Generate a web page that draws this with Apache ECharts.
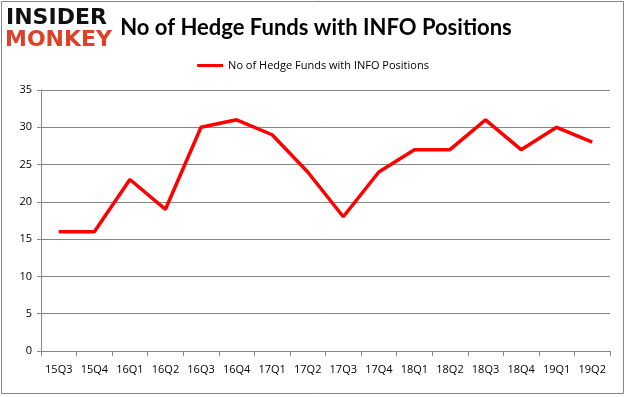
<!DOCTYPE html>
<html><head><meta charset="utf-8">
<script src="https://cdn.jsdelivr.net/npm/echarts@6/dist/echarts.min.js"></script>
<style>html,body{margin:0;padding:0;background:#fff}#c{width:626px;height:397px}</style>
</head><body><div id="c"></div>
<script>
const categories = ['15Q3','15Q4','16Q1','16Q2','16Q3','16Q4','17Q1','17Q2','17Q3','17Q4','18Q1','18Q2','18Q3','18Q4','19Q1','19Q2'];
const values = [16,16,23,19,30,31,29,24,18,24,27,27,31,27,30,28];
const seriesName = 'No of Hedge Funds with INFO Positions';
const titleText = 'No of Hedge Funds with INFO Positions';
const yTicks = [0,5,10,15,20,25,30,35];

const chart = echarts.init(document.getElementById('c'), null, {renderer:'canvas'});
chart.setOption({
  animation:false,
  backgroundColor:'#fff',
  graphic:[
    {type:'rect', shape:{x:1.5,y:1.5,width:622,height:392}, style:{fill:'none',stroke:'#868686',lineWidth:1}},
    {type:'text', left:6, top:7, style:{text:'INSIDER', font:'900 22px "DejaVu Sans"', fill:'#111'}},
    {type:'text', left:5, top:29, style:{text:'MONKEY', font:'900 22px "DejaVu Sans"', fill:'#dd4127'}}
  ],
  title:{text:titleText, left:311, textAlign:'center', top:12,
    textStyle:{fontFamily:'Lato', fontWeight:'bold', fontSize:22, color:'#000'}},
  legend:{top:55, left:'center', itemWidth:26, itemHeight:3, itemGap:5,
    icon:'rect',
    textStyle:{fontFamily:'"Open Sans"', fontSize:11, color:'#000'},
    data:[seriesName]},
  grid:{left:41, right:16, top:90, bottom:46},
  xAxis:{type:'category', data:categories, boundaryGap:true,
    axisLine:{lineStyle:{color:'#868686'}},
    axisTick:{show:true, length:5, interval:0, lineStyle:{color:'#868686'}},
    axisLabel:{interval:0, margin:13, fontFamily:'"Open Sans"', fontSize:11, color:'#000'}},
  yAxis:{type:'value', min:0, max:35, interval:5,
    axisLine:{show:true, lineStyle:{color:'#868686'}},
    axisTick:{show:true, length:4, lineStyle:{color:'#868686'}},
    splitLine:{lineStyle:{color:'#868686'}},
    axisLabel:{margin:9, fontFamily:'"Open Sans"', fontSize:11, color:'#000',
      formatter:v=>yTicks.includes(v)?String(v):''}},
  series:[{name:seriesName, type:'line', data:values, symbol:'none',
    lineStyle:{color:'#ff0000', width:3.5}, itemStyle:{color:'#ff0000'}}]
});
</script></body></html>
